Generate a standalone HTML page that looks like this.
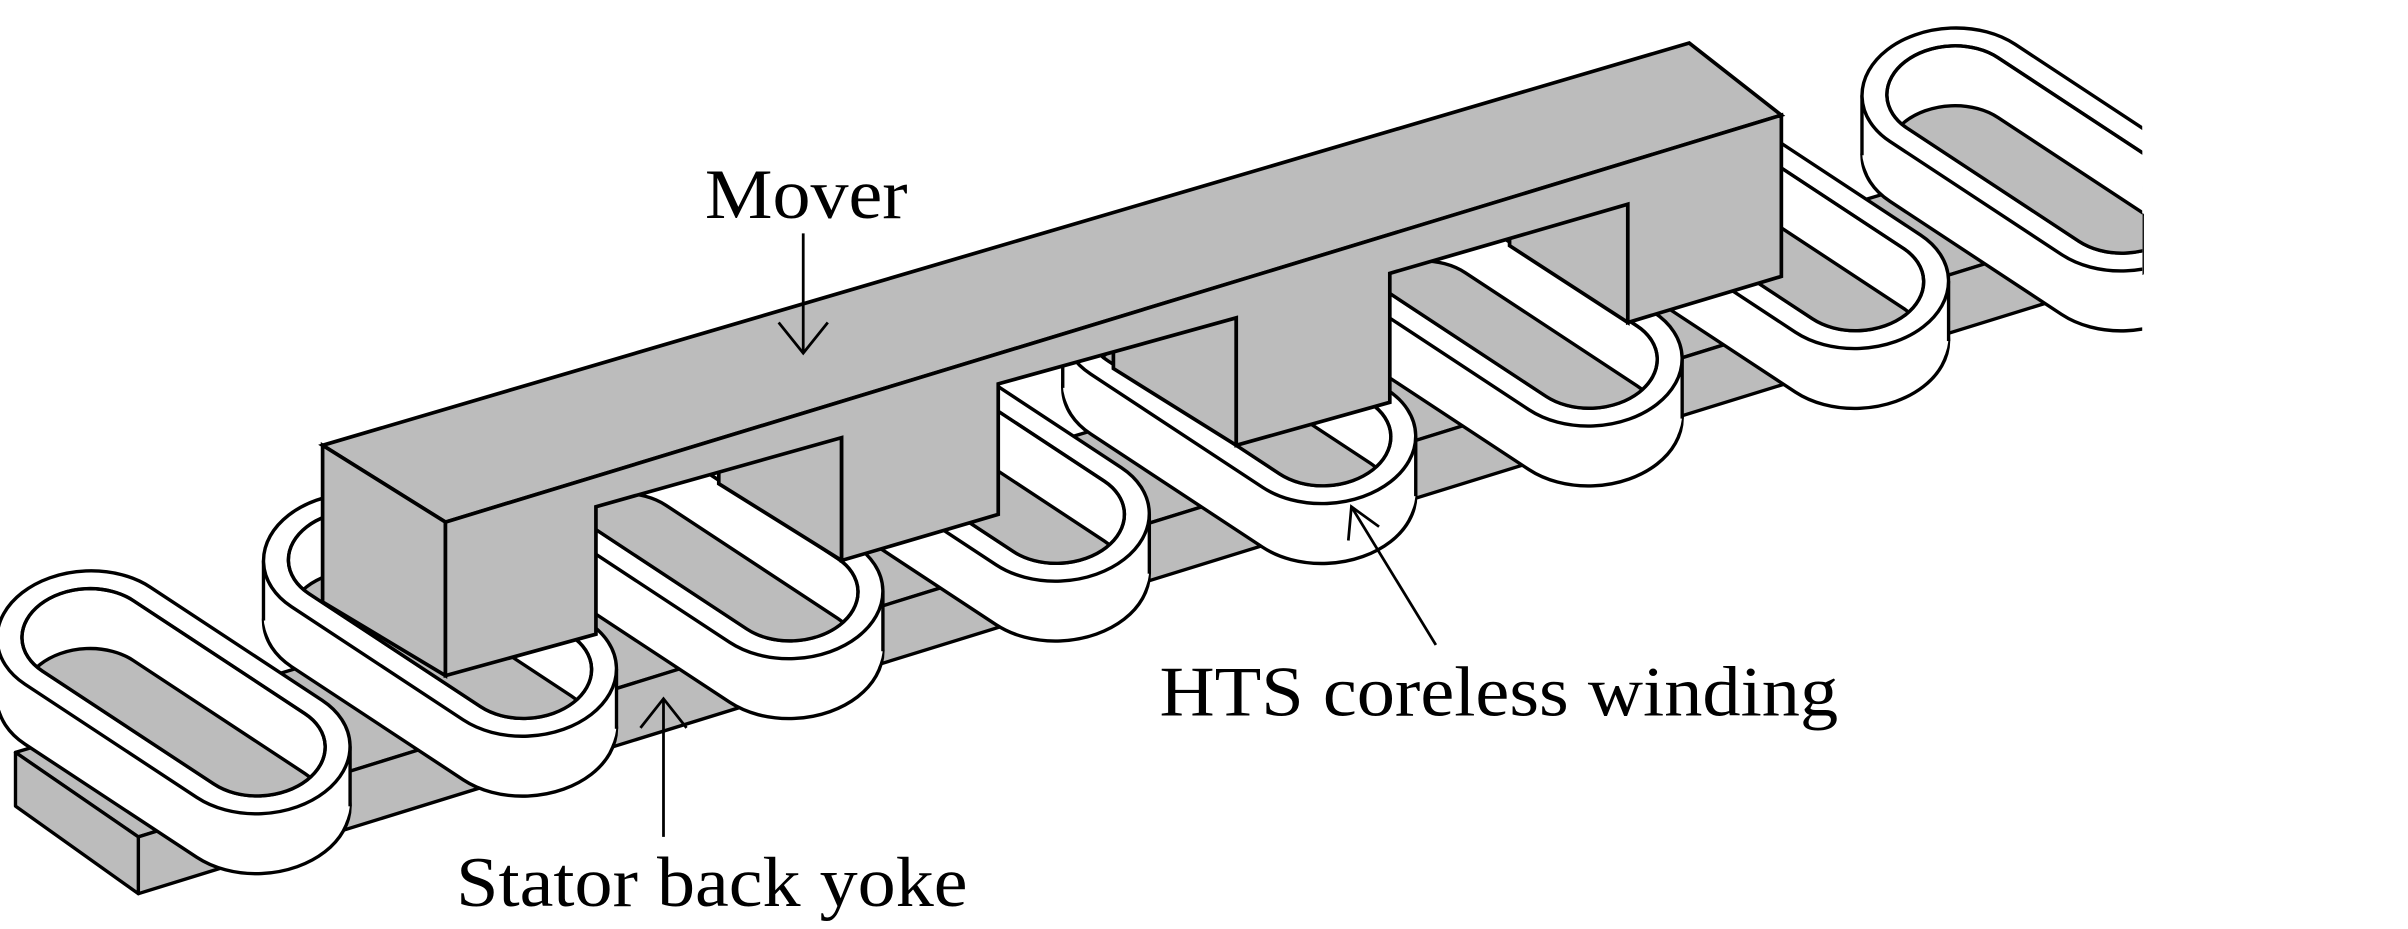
<!DOCTYPE html>
<html><head><meta charset="utf-8"><style>
html,body{margin:0;padding:0;background:#fff}
svg{display:block}
</style></head><body>
<svg width="2408" height="929" viewBox="0 0 1568 605" xmlns="http://www.w3.org/2000/svg" xmlns:xlink="http://www.w3.org/1999/xlink">
<defs>
<rect id="o" x="-51" y="-51" width="236" height="102" rx="51" ry="51" vector-effect="non-scaling-stroke"/>
<rect id="i" x="-37" y="-37" width="208" height="74" rx="37" ry="37" vector-effect="non-scaling-stroke"/>
<clipPath id="ci"><use xlink:href="#i" transform="matrix(0.835,0.55,0.8,-0.62,0,0)"/></clipPath>
<clipPath id="cr"><rect x="0" y="0" width="1395" height="605"/></clipPath>
<g id="coil">
 <use xlink:href="#o" transform="translate(0,39) matrix(0.835,0.55,0.8,-0.62,0,0)" fill="#fff" stroke="#000" stroke-width="3.4"/>
 <g fill="#fff">
 <use xlink:href="#o" transform="translate(0,36) matrix(0.835,0.55,0.8,-0.62,0,0)"/>
 <use xlink:href="#o" transform="translate(0,32) matrix(0.835,0.55,0.8,-0.62,0,0)"/>
 <use xlink:href="#o" transform="translate(0,28) matrix(0.835,0.55,0.8,-0.62,0,0)"/>
 <use xlink:href="#o" transform="translate(0,24) matrix(0.835,0.55,0.8,-0.62,0,0)"/>
 <use xlink:href="#o" transform="translate(0,20) matrix(0.835,0.55,0.8,-0.62,0,0)"/>
 <use xlink:href="#o" transform="translate(0,16) matrix(0.835,0.55,0.8,-0.62,0,0)"/>
 <use xlink:href="#o" transform="translate(0,12) matrix(0.835,0.55,0.8,-0.62,0,0)"/>
 <use xlink:href="#o" transform="translate(0,8) matrix(0.835,0.55,0.8,-0.62,0,0)"/>
 <use xlink:href="#o" transform="translate(0,4) matrix(0.835,0.55,0.8,-0.62,0,0)"/>
 </g>
 <line x1="-59" y1="1.6" x2="-59" y2="40.6" stroke="#000" stroke-width="2.2"/>
 <line x1="170.9" y1="72.1" x2="170.9" y2="111.1" stroke="#000" stroke-width="2.2"/>
 <use xlink:href="#o" transform="matrix(0.835,0.55,0.8,-0.62,0,0)" fill="#fff" stroke="#000" stroke-width="3.4"/>
 <use xlink:href="#i" transform="matrix(0.835,0.55,0.8,-0.62,0,0)" fill="#fff" stroke="#000" stroke-width="3.4"/>
 <g clip-path="url(#ci)">
  <use xlink:href="#i" transform="translate(0,39) matrix(0.835,0.55,0.8,-0.62,0,0)" fill="#bcbcbc" stroke="#000" stroke-width="3.4"/>
 </g>
 <use xlink:href="#i" transform="matrix(0.835,0.55,0.8,-0.62,0,0)" fill="none" stroke="#000" stroke-width="3.4"/>
</g>
</defs>

<!-- stator yoke -->
<g stroke="#000" stroke-width="2.2" stroke-linejoin="round" fill="#bcbcbc">
 <polygon points="10,490 1325,97 1395,140 90,545"/>
 <polygon points="90,545 1395,140 1395,178 90,582"/>
 <polygon points="10,490 90,545 90,582 10,525"/>
</g>

<!-- coils back to front -->
<g clip-path="url(#cr)"><use xlink:href="#coil" transform="translate(1271.5,60.5)"/></g>
<use xlink:href="#coil" transform="translate(1098,111)"/>
<use xlink:href="#coil" transform="translate(924.5,161.5)"/>
<use xlink:href="#coil" transform="translate(751,212)"/>
<use xlink:href="#coil" transform="translate(577.5,262.5)"/>
<use xlink:href="#coil" transform="translate(404,313)"/>
<use xlink:href="#coil" transform="translate(230.5,363.5)"/>

<!-- mover -->
<g stroke="#000" stroke-width="2.4" stroke-linejoin="miter" fill="#bcbcbc">
 <polygon points="548,285 468,255 468,315 548,365"/>
 <polygon points="805,207 725,180 725,240 805,290"/>
 <polygon points="1060,133 983,110 983,160 1060,210"/>
 <polygon points="210,290 1100,28 1160,75 290,340"/>
 <polygon points="210,290 290,340 290,440 210,392"/>
 <path d="M290,340 L1160,75 L1160,180 L1060,210 L1060,133 L905,178 L905,262 L805,290 L805,207 L650,250 L650,335 L548,365 L548,285 L388,330 L388,413 L290,440 Z"/>
</g>

<use xlink:href="#coil" transform="translate(57,414)"/>

<!-- labels & arrows -->
<g fill="none" stroke="#000" stroke-width="1.8">
 <line x1="523" y1="152" x2="523" y2="230"/>
 <polyline points="507,210 523,230 539,210"/>
 <line x1="935" y1="420" x2="880" y2="330"/>
 <polyline points="878,352 880,330 898,343"/>
 <line x1="432" y1="545" x2="432" y2="455"/>
 <polyline points="417,474 432,455 447,474"/>
</g>
<g font-family="'Liberation Serif', serif" font-size="46" fill="#000">
 <text x="459" y="142" textLength="132" lengthAdjust="spacingAndGlyphs">Mover</text>
 <text x="755" y="466" textLength="442" lengthAdjust="spacingAndGlyphs">HTS coreless winding</text>
 <text x="297" y="590" textLength="333" lengthAdjust="spacingAndGlyphs">Stator back yoke</text>
</g>
</svg>
</body></html>
